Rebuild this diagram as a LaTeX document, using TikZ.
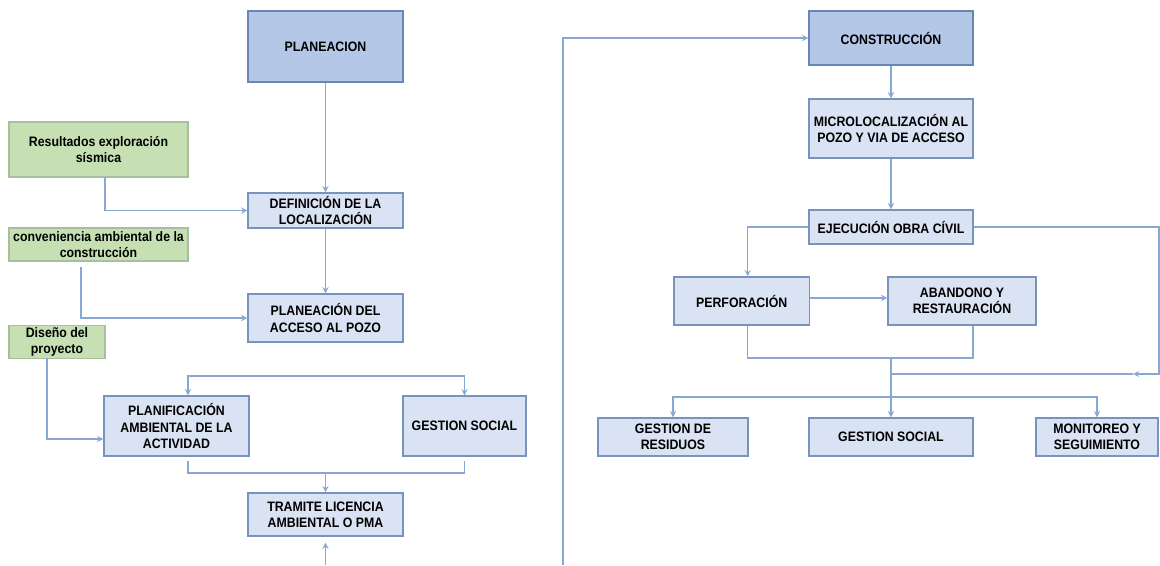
\documentclass[tikz,border=0pt]{standalone}
\usepackage{fontspec}
\setmainfont{Liberation Sans}[FakeStretch=0.9]
\usetikzlibrary{arrows}
\definecolor{boxdark}{RGB}{180,199,231}
\definecolor{boxlight}{RGB}{218,227,243}
\definecolor{boxgreen}{RGB}{198,224,180}
\definecolor{darkedge}{RGB}{105,135,180}
\definecolor{lightedge}{RGB}{120,148,190}
\definecolor{greenedge}{RGB}{168,190,158}
\definecolor{lineblue}{RGB}{135,168,210}
\tikzset{
  >=stealth,
  x=0.02cm, y=-0.02cm,
  every node/.style={font=\bfseries\fontsize{7.8}{9.2}\selectfont, align=center, inner sep=1pt},
  phase/.style={draw=darkedge, fill=boxdark, line width=0.8pt},
  task/.style={draw=lightedge, fill=boxlight, line width=0.8pt},
  input/.style={draw=greenedge, fill=boxgreen, line width=0.6pt},
  link/.style={draw=lineblue, line width=0.6pt},
}
\begin{document}
\begin{tikzpicture}
      \useasboundingbox (0,0) rectangle (1160,565);

      \node[phase, minimum width=3.1cm, minimum height=1.42cm]  (plan)    at (325.5,46.5)  {PLANEACION};
      \node[task,  minimum width=3.1cm, minimum height=0.7cm]   (defloc)  at (325.5,210.5) {DEFINICIÓN DE LA\\LOCALIZACIÓN};
      \node[task,  minimum width=3.1cm, minimum height=0.96cm]  (accpozo) at (325.5,318)   {PLANEACIÓN DEL\\ACCESO AL POZO};
      \node[task,  minimum width=2.9cm, minimum height=1.2cm]   (planif)  at (176.5,426)   {PLANIFICACIÓN\\AMBIENTAL DE LA\\ACTIVIDAD};
      \node[task,  minimum width=2.46cm, minimum height=1.2cm]  (gsocA)   at (464.5,426)   {GESTION SOCIAL};
      \node[task,  minimum width=3.1cm, minimum height=0.86cm]  (tramite) at (325.5,514.5) {TRAMITE LICENCIA\\AMBIENTAL O PMA};
      \node[input, minimum width=3.58cm, minimum height=1.1cm]  (resul)   at (98.5,149.5)  {Resultados exploración\\sísmica};
      \node[input, minimum width=3.58cm, minimum height=0.66cm] (conv)    at (98.5,244.5)  {conveniencia ambiental de la\\construcción};
      \node[input, minimum width=1.92cm, minimum height=0.64cm] (diseno)  at (57,342)      {Diseño del\\proyecto};

      \node[phase, minimum width=3.28cm, minimum height=1.08cm] (constr)  at (891,38)      {CONSTRUCCIÓN};
      \node[task,  minimum width=3.28cm, minimum height=1.18cm] (micro)   at (891,128.5)   {MICROLOCALIZACIÓN AL\\POZO Y VIA DE ACCESO};
      \node[task,  minimum width=3.28cm, minimum height=0.68cm] (ejec)    at (891,227)     {EJECUCIÓN OBRA CÍVIL};
      \node[task,  minimum width=2.71cm, minimum height=0.96cm] (perf)    at (741.7,301)   {PERFORACIÓN};
      \node[task,  minimum width=2.96cm, minimum height=0.96cm] (aban)    at (962,301)     {ABANDONO Y\\RESTAURACIÓN};
      \node[task,  minimum width=3.0cm, minimum height=0.76cm]  (gres)    at (673,437)     {GESTION DE\\RESIDUOS};
      \node[task,  minimum width=3.28cm, minimum height=0.76cm] (gsocB)   at (891,437)     {GESTION SOCIAL};
      \node[task,  minimum width=2.44cm, minimum height=0.76cm] (monit)   at (1097,437)    {MONITOREO Y\\SEGUIMIENTO};

      \coordinate (rs) at (105,177);
      \coordinate (cv) at (81,267);
      \coordinate (ds) at (47,358);
      \coordinate (tb) at (325.5,376);
      \coordinate (bb) at (325.5,473);
      \coordinate (tl) at (325.5,565);
      \coordinate (bl) at (563,565);
      \coordinate (ja) at (891,358);
      \coordinate (jb) at (891,374);
      \coordinate (jc) at (891,397);
      \coordinate (rt) at (1159,227);
      \coordinate (ra) at (1133,374);

      \draw[link,->] (plan) -- (defloc);
      \draw[link,->] (rs) |- (defloc.west);
      \draw[link,->] (defloc) -- (accpozo);
      \draw[link,->] (cv) |- (accpozo.west);
      \draw[link,->] (ds) |- ([yshift=-0.26cm]planif.west);
      \draw[link,->] (tb) -| ([xshift=0.23cm]planif.north);
      \draw[link,->] (tb) -| (gsocA.north);
      \draw[link]    ([xshift=0.23cm,yshift=-0.08cm]planif.south) |- (bb) -| ([yshift=-0.08cm]gsocA.south);
      \draw[link,->] (bb) -- (tramite);
      \draw[link,->,shorten >=0.12cm] (tl) -- (tramite.south);
      \draw[link,->] (bl) |- (constr.west);

      \draw[link,->] (constr) -- (micro);
      \draw[link,->] (micro) -- (ejec);
      \draw[link,->] (ejec.west) -| ([xshift=0.12cm]perf.north);
      \draw[link,->] (ejec.east) -| (rt) |- (ra);
      \draw[link]    (ra) -- (jb);
      \draw[link,->] ([yshift=0.06cm]perf.east) -- ([yshift=0.06cm]aban.west);
      \draw[link]    ([xshift=0.12cm]perf.south) |- (ja) -| ([xshift=0.22cm]aban.south);
      \draw[link,->] (ja) -- (gsocB);
      \draw[link,->] (jc) -| (gres.north);
      \draw[link,->] (jc) -| (monit.north);
    \end{tikzpicture}
\end{document}
